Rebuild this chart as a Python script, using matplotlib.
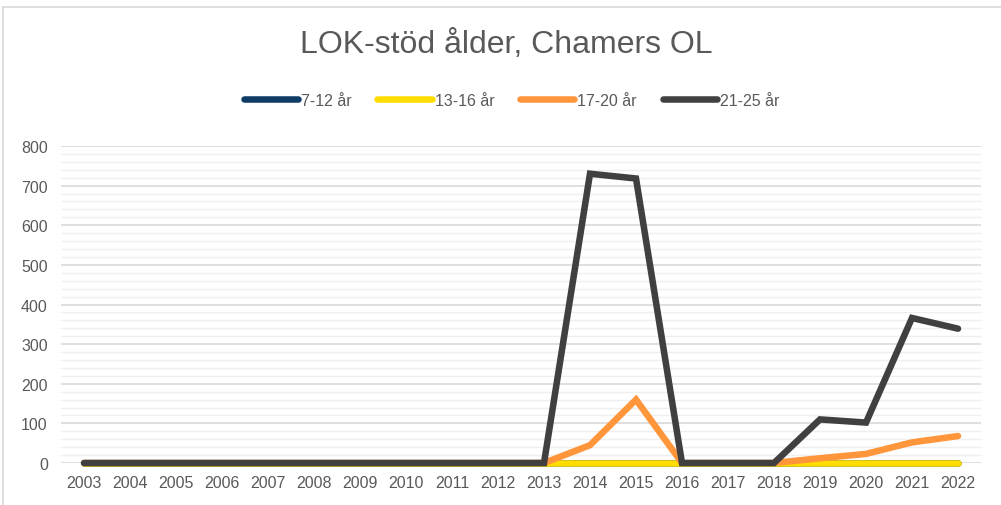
import numpy as np
import matplotlib.pyplot as plt
from matplotlib.lines import Line2D

plt.rcParams['font.family'] = ['Liberation Sans', 'DejaVu Sans']

# Data
YEARS = [str(y) for y in range(2003, 2023)]
AGE_7_12 = [0] * 20
AGE_13_16 = [0] * 20
AGE_17_20 = [0, 0, 0, 0, 0, 0, 0, 0, 0, 0, 0, 45, 160, 0, 0, 0, 12, 23, 52, 68]
AGE_21_25 = [0, 0, 0, 0, 0, 0, 0, 0, 0, 0, 0, 730, 718, 0, 0, 0, 110, 102, 366, 339]

SERIES = [
    ("7-12 år", AGE_7_12, "#0E3C66"),
    ("13-16 år", AGE_13_16, "#FFDD00"),
    ("17-20 år", AGE_17_20, "#FF963C"),
    ("21-25 år", AGE_21_25, "#404040"),
]

fig = plt.figure(figsize=(10.01, 5.06), dpi=100)
ax = fig.add_axes([61 / 1001, 42 / 506, 920 / 1001, 317 / 506])

x = np.arange(len(YEARS))
for name, vals, col in SERIES:
    ax.plot(x, vals, color=col, linewidth=4.7, solid_capstyle='round',
            solid_joinstyle='miter', label=name, zorder=3, clip_on=False)

ax.set_xlim(-0.5, len(YEARS) - 0.5)
ax.set_ylim(0, 800)
ax.set_xticks(x)
ax.set_xticklabels(YEARS)
ax.set_yticks(np.arange(0, 801, 100))
ax.set_yticks(np.arange(0, 801, 20), minor=True)
ax.grid(which='major', axis='y', color='#D9D9D9', linewidth=1.2, zorder=0)
ax.grid(which='minor', axis='y', color='#EFEFEF', linewidth=1.0, zorder=0)
ax.tick_params(axis='both', which='both', length=0, labelsize=11.5, colors='#595959')
ax.tick_params(axis='x', pad=8.5)
ax.tick_params(axis='y', pad=9.5)
for s in ax.spines.values():
    s.set_visible(False)
ax.set_axisbelow(True)

fig.text(0.506, 0.912, "LOK-stöd ålder, Chamers OL", ha='center', va='center',
         fontsize=23, color='#595959')

handles = [Line2D([0], [0], color=c, linewidth=4.7, solid_capstyle='round')
           for _, _, c in SERIES]
fig.legend(handles, [n for n, _, _ in SERIES], loc='center', bbox_to_anchor=(0.511, 0.80),
           ncol=4, frameon=False, fontsize=11.5, labelcolor='#595959',
           handlelength=3.4, handletextpad=0.2, columnspacing=1.6)

# chart border (top and left visible)
fig.add_artist(Line2D([3 / 1001, 3 / 1001], [0, 1 - 8 / 506], color='#D9D9D9', linewidth=1.2))
fig.add_artist(Line2D([3 / 1001, 1], [1 - 8 / 506, 1 - 8 / 506], color='#D9D9D9', linewidth=1.2))

fig.savefig("out.png", dpi=100)
